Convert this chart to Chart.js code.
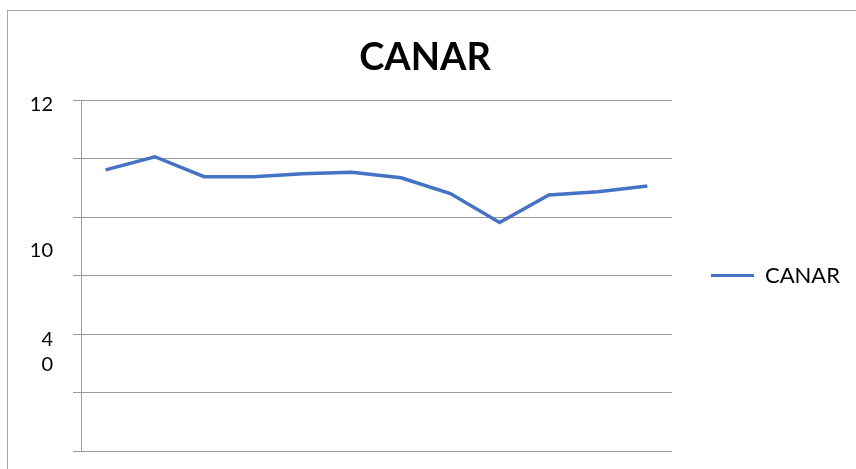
<!DOCTYPE html>
<html>
<head>
<meta charset="utf-8">
<script src="https://cdn.jsdelivr.net/npm/chart.js@4/dist/chart.umd.min.js"></script>
<style>
  html, body { margin: 0; padding: 0; background: #fff; overflow: hidden; }
  #frame { position: absolute; left: 7px; top: 10px; width: 900px; height: 500px; border: 1px solid #a6a6a6; box-sizing: border-box; }
  #wrap { position: absolute; left: 0; top: 0; width: 856px; height: 469px; }
</style>
</head>
<body>
<div id="frame"></div>
<div id="wrap"><canvas id="c" width="856" height="469"></canvas></div>
<script>
// ---- data ----
const categories = ["1","2","3","4","5","6","7","8","9","10","11","12"];
const canarValues = [9.61, 10.06, 9.38, 9.38, 9.48, 9.53, 9.34, 8.80, 7.81, 8.75, 8.86, 9.06];
const seriesName = "CANAR";
const titleText = "CANAR";
// gridline values on the y axis
const gridValues = [0, 2, 4, 6, 8, 10, 12];
// y tick labels as they appear in the picture, and the values they sit at
const yTickLabels = ["12", "10", ["4", "0"]];
const yTickLabelValues = [11.85, 6.865, 3.39];

const LINE_BLUE = "#4472C4";
const GRID = "#9a9a9a";

const labelMap = new Map();
yTickLabelValues.forEach((v, i) => labelMap.set(v, yTickLabels[i]));
const allTickValues = Array.from(new Set(gridValues.concat(yTickLabelValues))).sort((a, b) => a - b);

new Chart(document.getElementById("c"), {
  type: "line",
  data: {
    labels: categories,
    datasets: [{
      label: seriesName,
      data: canarValues,
      borderColor: LINE_BLUE,
      backgroundColor: LINE_BLUE,
      borderWidth: 3.5,
      pointRadius: 0,
      tension: 0,
      fill: false
    }]
  },
  options: {
    responsive: false,
    animation: false,
    layout: { padding: { left: 0, top: 0, right: 6, bottom: 18 } },
    plugins: {
      tooltip: { enabled: false },
      title: {
        display: true,
        text: titleText,
        color: "#000",
        font: { family: "Lato", size: 38, weight: "bold", lineHeight: 1.2 },
        padding: { top: 35.2, bottom: 19.2 }
      },
      legend: {
        display: true,
        position: "right",
        fullSize: false,
        labels: {
          color: "#000",
          font: { family: "Lato", size: 22 },
          boxWidth: 43,
          boxHeight: 3,
          padding: 39,
          generateLabels: (chart) => chart.data.datasets.map((ds, i) => ({
            text: ds.label,
            fillStyle: ds.borderColor,
            strokeStyle: ds.borderColor,
            lineWidth: 0,
            hidden: false,
            datasetIndex: i,
            fontColor: "#000"
          }))
        }
      }
    },
    scales: {
      x: {
        type: "category",
        offset: true,
        grid: { display: false },
        ticks: { display: false },
        border: { display: true, color: GRID, width: 1 },
        afterFit: (s) => { s.height = 0; }
      },
      y: {
        min: 0,
        max: 12,
        afterBuildTicks: (s) => { s.ticks = allTickValues.map(v => ({ value: v })); },
        afterFit: (s) => { s.width = 81; s.paddingTop = 0; s.paddingBottom = 0; },
        ticks: {
          autoSkip: false,
          color: "#000",
          padding: 20,
          font: { family: "Lato", size: 20, lineHeight: 1.25 },
          callback: (v) => labelMap.has(v) ? labelMap.get(v) : ""
        },
        grid: {
          color: (ctx) => (ctx.tick && gridValues.includes(ctx.tick.value)) ? GRID : "rgba(0,0,0,0)",
          tickLength: 8,
          lineWidth: 1
        },
        border: { display: true, color: GRID, width: 1 }
      }
    }
  }
});
</script>
</body>
</html>
